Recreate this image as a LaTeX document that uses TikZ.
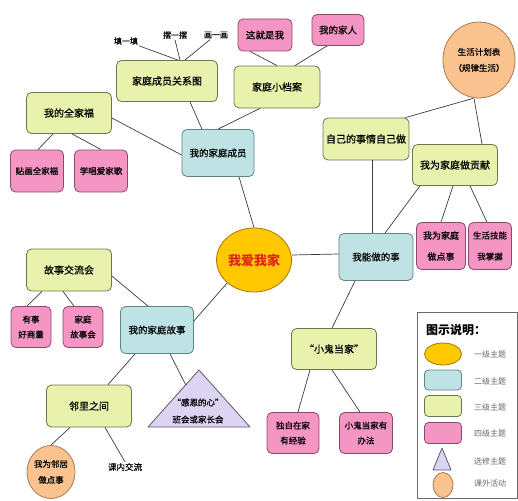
\documentclass[tikz,border=0pt]{standalone}
\usepackage{fontspec}
\setmainfont{Noto Sans CJK SC}
\newfontfamily\heavyfont{Noto Sans CJK SC}[FakeBold=0.5]
\usepackage{tikz}
\usetikzlibrary{calc}
\usetikzlibrary{shapes.geometric}

\definecolor{goldfill}{HTML}{FFC800}
\definecolor{golddraw}{HTML}{A87800}
\definecolor{tealfill}{HTML}{BFE3E4}
\definecolor{tealdraw}{HTML}{5E8488}
\definecolor{limefill}{HTML}{E8F2AC}
\definecolor{limedraw}{HTML}{6C7650}
\definecolor{pinkfill}{HTML}{F495C4}
\definecolor{pinkdraw}{HTML}{8A4A6A}
\definecolor{orangefill}{HTML}{F9C28E}
\definecolor{orangedraw}{HTML}{A87A58}
\definecolor{lilacfill}{HTML}{DDD3F2}
\definecolor{lilacdraw}{HTML}{5C5A70}
\definecolor{linkgray}{HTML}{3C3C3C}
\definecolor{keygray}{HTML}{6A6A6A}
\definecolor{titlered}{HTML}{E0241C}

\begin{document}
\begin{tikzpicture}[x=1pt, y=-1pt,
	level1/.style={ellipse, draw=golddraw, fill=goldfill, line width=0.8pt, inner sep=0pt},
	level2/.style={rectangle, rounded corners=5pt, draw=tealdraw, fill=tealfill, line width=0.8pt, inner sep=0pt, font=\heavyfont\fontsize{9.5}{12}\selectfont},
	level3/.style={rectangle, rounded corners=5pt, draw=limedraw, fill=limefill, line width=0.8pt, inner sep=0pt, font=\heavyfont\fontsize{10}{12}\selectfont},
	level4/.style={rectangle, rounded corners=5pt, draw=pinkdraw, fill=pinkfill, line width=0.8pt, inner sep=0pt, align=center, font=\heavyfont\fontsize{8.5}{15}\selectfont},
	outside/.style={ellipse, draw=orangedraw, fill=orangefill, line width=0.8pt, inner sep=0pt, align=center, font=\heavyfont\fontsize{8.5}{16}\selectfont},
	plain/.style={inner sep=1pt, font=\heavyfont\fontsize{8}{10}\selectfont},
	keytext/.style={inner sep=1pt, text=keygray, font=\fontsize{8}{10}\selectfont},
	link/.style={draw=linkgray, line width=0.7pt}]

	\useasboundingbox (0,0) rectangle (518,500);
	\fill[white] (0,0) rectangle (518,500);

	\node[level1, minimum width=75pt, minimum height=64pt] (home) at (254,260)
		{\fontsize{13}{15}\selectfont\bfseries\color{titlered}我爱我家};

	\node[level2, minimum width=72pt, minimum height=47pt] (members) at (218,153) {我的家庭成员};
	\node[level2, minimum width=74pt, minimum height=47pt] (neng) at (376,257) {我能做的事};
	\node[level2, minimum width=73pt, minimum height=47pt] (story) at (157,330) {我的家庭故事};

	\node[level3, minimum width=101pt, minimum height=41pt] (relg) at (167,81) {家庭成员关系图};
	\node[level3, minimum width=85pt, minimum height=41pt] (family) at (69,113) {我的全家福};
	\node[level3, minimum width=86pt, minimum height=42pt] (dangan) at (277,87) {家庭小档案};
	\node[level3, minimum width=86pt, minimum height=42pt] (ziji) at (366,139) {自己的事情自己做};
	\node[level3, minimum width=85pt, minimum height=41pt] (gongxian) at (455,165) {我为家庭做贡献};
	\node[level3, minimum width=85pt, minimum height=42pt] (jiaoliu) at (69,270) {故事交流会};
	\node[level3, minimum width=85pt, minimum height=42pt] (linli) at (89,406) {邻里之间};
	\node[level3, minimum width=85pt, minimum height=41pt] (xiaogui) at (334,349) {“小鬼当家”};

	\node[level4, minimum width=53pt, minimum height=42pt] (tiehua) at (37,171) {贴画全家福};
	\node[level4, minimum width=53pt, minimum height=42pt] (xuechang) at (101,171) {学唱爱家歌};
	\node[level4, minimum width=54pt, minimum height=32pt] (zhejiu) at (265,35) {\fontsize{9.5}{12}\selectfont 这就是我};
	\node[level4, minimum width=52pt, minimum height=31pt] (jiaren) at (338,30) {\fontsize{9.5}{12}\selectfont 我的家人};
	\node[level4, minimum width=49pt, minimum height=47pt, font=\heavyfont\fontsize{9}{21}\selectfont] (zuodian) at (441,246) {我为家庭\\做点事};
	\node[level4, minimum width=43pt, minimum height=47pt, font=\heavyfont\fontsize{8.5}{21}\selectfont] (jineng) at (490,246) {生活技能\\我掌握};
	\node[level4, minimum width=40pt, minimum height=41pt] (youshi) at (31,327) {有事\\好商量};
	\node[level4, minimum width=40pt, minimum height=41pt] (gushihui) at (83,327) {家庭\\故事会};
	\node[level4, minimum width=52pt, minimum height=41pt] (duzi) at (293,433) {独自在家\\有经验};
	\node[level4, minimum width=53pt, minimum height=41pt] (banfa) at (366,433) {小鬼当家有\\办法};

	\node[outside, minimum width=58pt, minimum height=76pt] (plan) at (479,60) {生活计划表\\（规律生活）};
	\node[outside, minimum width=41pt, minimum height=53pt] (neighbor) at (51,472) {我为邻居\\做点事};

	\coordinate (ganentop) at (199,370);
	\coordinate (ganenleft) at (148,427);
	\coordinate (ganenright) at (250,427);
	\filldraw[draw=lilacdraw, fill=lilacfill, line width=0.8pt, line join=round]
		(ganentop) -- (ganenleft) -- (ganenright) -- cycle;
	\node[align=center, inner sep=0pt, font=\heavyfont\fontsize{8.5}{17}\selectfont] (ganen) at (198,411) {“感恩的心”\\班会或家长会};

	\node[plain] (tian) at (126,41) {填一填};
	\node[plain] (bai) at (175,35) {摆一摆};
	\node[plain] (hua) at (216,35) {画一画};
	\node[plain, font=\heavyfont\fontsize{8.5}{10}\selectfont] (kenei) at (125,467) {课内交流};

	\draw[link] (tian.south east) -- ([xshift=11pt]relg.north);
	\draw[link] (bai.south) -- ([xshift=13pt]relg.north);
	\draw[link] ([xshift=-6pt]hua.south) -- ([xshift=18pt]relg.north);
	\draw[link] ([xshift=23pt]relg.south) -- ([xshift=-16pt]members.north);
	\draw[link] ([yshift=-5pt]family.east) -- ([yshift=-2pt]members.west);
	\draw[link] ([xshift=-16pt]family.south) -- ([xshift=1pt]tiehua.north);
	\draw[link] ([xshift=3pt]family.south) -- (xuechang.north);
	\draw[link] ([xshift=-17pt]dangan.south) -- (members.north);
	\draw[link] ([xshift=-15pt]zhejiu.south) -- (dangan.north);
	\draw[link] ([xshift=-11pt]jiaren.south) -- ([xshift=18pt]dangan.north);
	\draw[link] ([xshift=21pt]members.south) -- (home.north);
	\draw[link] ([xshift=-6pt]plan.south) -- ([xshift=-4pt]ziji.north east);
	\draw[link] ([xshift=-5pt]plan.south) -- ([xshift=27pt]gongxian.north);
	\draw[link] ([xshift=6pt]ziji.south) -- ([xshift=-4pt]neng.north);
	\draw[link] ([xshift=-35pt]gongxian.south) -- ([xshift=9pt]neng.north);
	\draw[link] ([xshift=-2pt]gongxian.south) -- (zuodian.north);
	\draw[link] ([xshift=15pt]gongxian.south) -- ([xshift=-3pt]jineng.north);
	\draw[link] ([yshift=5pt]home.east) -- ([yshift=3pt]neng.west);
	\draw[link] ([xshift=-21pt]neng.south) -- ([xshift=-2pt]xiaogui.north);
	\draw[link] (home.south west) -- ([yshift=9pt]story.east);
	\draw[link] ([yshift=-6pt]jiaoliu.east) -- ([xshift=-9pt]story.north);
	\draw[link] ([xshift=-27pt]jiaoliu.south) -- ([xshift=-4pt]youshi.north);
	\draw[link] ([xshift=-6pt]jiaoliu.south) -- ([xshift=-9pt]gushihui.north);
	\draw[link] ([xshift=-22pt]story.south) -- ([xshift=19pt]linli.north);
	\draw[link] ([xshift=13pt]story.south) -- ($(ganentop)!0.26!(ganenleft)$);
	\draw[link] ([xshift=-19pt]linli.south) -- (neighbor.north);
	\draw[link] ([xshift=16pt]linli.south) -- (kenei.north);
	\draw[link] ([xshift=-24pt]xiaogui.south) -- ([xshift=5pt]duzi.north);
	\draw[link] ([xshift=-2pt]xiaogui.south) -- ([xshift=-6pt]banfa.north);

	\draw[draw=keygray, line width=0.8pt] (417,312) rectangle (517,498);
	\node[anchor=west, inner sep=0pt, font=\fontsize{12}{14}\selectfont\bfseries] (legtitle) at (426,330) {图示说明：};
	\node[level1, minimum width=37pt, minimum height=22pt] (keya) at (443,354) {};
	\node[level2, minimum width=37pt, minimum height=20pt, rounded corners=4pt] (keyb) at (443,380) {};
	\node[level3, minimum width=37pt, minimum height=21pt, rounded corners=4pt] (keyc) at (443,406) {};
	\node[level4, minimum width=37pt, minimum height=21pt, rounded corners=4pt] (keyd) at (443,433) {};
	\filldraw[draw=lilacdraw, fill=lilacfill, line width=0.8pt, line join=round]
		(442,448) -- (433,470) -- (451,470) -- cycle;
	\node[outside, minimum width=20pt, minimum height=25pt] (keyf) at (443,485) {};
	\foreach \lab/\yy [count=\i] in {一级主题/354, 二级主题/381, 三级主题/407, 四级主题/433, 选修主题/461, 课外活动/483}
		\node[keytext] (keylab\i) at (490,\yy) {\lab};

\end{tikzpicture}
\end{document}
